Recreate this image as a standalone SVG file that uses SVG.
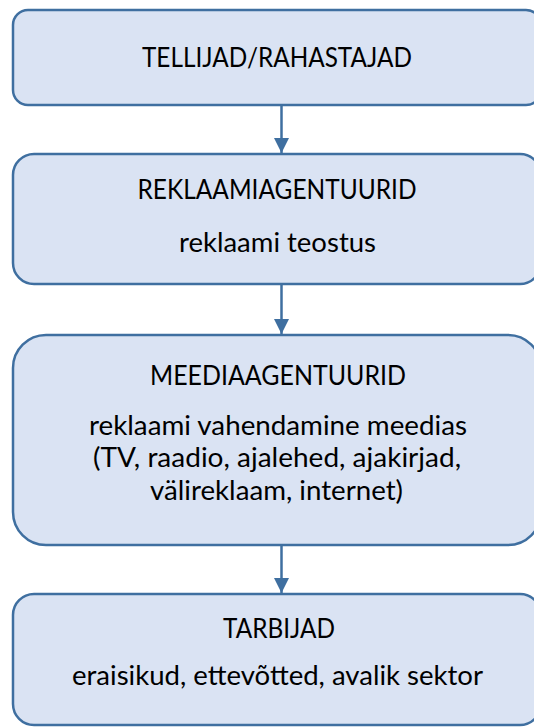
<svg xmlns="http://www.w3.org/2000/svg" width="534" height="727" viewBox="0 0 534 727">
<style>
.box{fill:#DAE3F3;stroke:#3F6FA0;stroke-width:2.5}
.t{font-family:Lato,"Liberation Sans",sans-serif;font-size:27px;fill:#000;text-anchor:middle}
.c{stroke:#3F6FA0;stroke-width:2.5;fill:none}
</style>
<defs>
<marker id="ah" markerUnits="userSpaceOnUse" markerWidth="16" markerHeight="16" refX="15" refY="8" orient="auto">
<path d="M0,0.5 L15,8 L0,15.5 Z" fill="#3F6FA0"/>
</marker>
</defs>
<rect width="534" height="727" fill="#fff"/>
<g id="connectors">
<line class="c" x1="281.5" y1="105" x2="281.5" y2="153" marker-end="url(#ah)"/>
<line class="c" x1="281.5" y1="284" x2="281.5" y2="334" marker-end="url(#ah)"/>
<line class="c" x1="281.5" y1="545" x2="281.5" y2="593" marker-end="url(#ah)"/>
</g>
<g id="tellijad">
<rect class="box" x="13" y="10" width="528" height="95" rx="15" ry="15"/>
<text class="t" x="277" y="67" textLength="270" lengthAdjust="spacingAndGlyphs">TELLIJAD/RAHASTAJAD</text>
</g>
<g id="reklaamiagentuurid">
<rect class="box" x="13" y="154" width="528" height="130" rx="21" ry="21"/>
<text class="t" x="277" y="199" textLength="279" lengthAdjust="spacingAndGlyphs">REKLAAMIAGENTUURID</text>
<text class="t" x="277.5" y="252" textLength="197" lengthAdjust="spacingAndGlyphs">reklaami teostus</text>
</g>
<g id="meediaagentuurid">
<rect class="box" x="13" y="335" width="528" height="210" rx="33" ry="33"/>
<text class="t" x="278" y="385" textLength="256" lengthAdjust="spacingAndGlyphs">MEEDIAAGENTUURID</text>
<text class="t" x="278" y="435" textLength="378" lengthAdjust="spacingAndGlyphs">reklaami vahendamine meedias</text>
<text class="t" x="277" y="467" textLength="368" lengthAdjust="spacingAndGlyphs">(TV, raadio, ajalehed, ajakirjad,</text>
<text class="t" x="276.5" y="500" textLength="253" lengthAdjust="spacingAndGlyphs">välireklaam, internet)</text>
</g>
<g id="tarbijad">
<rect class="box" x="13" y="594" width="528" height="131" rx="21" ry="21"/>
<text class="t" x="279" y="638" textLength="112" lengthAdjust="spacingAndGlyphs">TARBIJAD</text>
<text class="t" x="277.5" y="685" textLength="411" lengthAdjust="spacingAndGlyphs">eraisikud, ettevõtted, avalik sektor</text>
</g>
</svg>
